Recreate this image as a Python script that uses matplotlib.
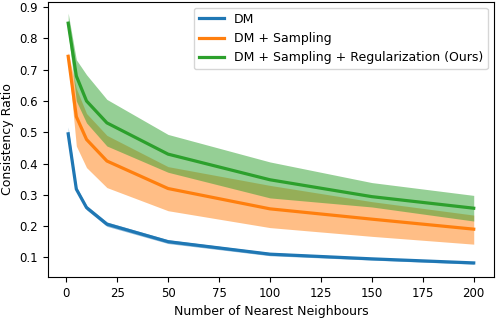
import matplotlib
matplotlib.use('Agg')
import matplotlib.pyplot as plt

# number of nearest neighbours
k = [1, 5, 10, 20, 50, 100, 150, 200]

# DM
dm = [0.495, 0.318, 0.259, 0.206, 0.15, 0.11, 0.095, 0.082]
dm_lo = [0.488, 0.311, 0.252, 0.199, 0.144, 0.105, 0.091, 0.078]
dm_hi = [0.517, 0.326, 0.266, 0.213, 0.156, 0.115, 0.099, 0.086]

# DM + Sampling
samp = [0.743, 0.55, 0.477, 0.408, 0.32, 0.255, 0.222, 0.19]
samp_lo = [0.73, 0.456, 0.387, 0.323, 0.249, 0.195, 0.167, 0.142]
samp_hi = [0.755, 0.64, 0.56, 0.49, 0.39, 0.33, 0.278, 0.235]

# DM + Sampling + Regularization (Ours)
ours = [0.849, 0.68, 0.6, 0.53, 0.43, 0.348, 0.294, 0.257]
ours_lo = [0.82, 0.6, 0.53, 0.456, 0.372, 0.29, 0.261, 0.216]
ours_hi = [0.881, 0.732, 0.684, 0.605, 0.493, 0.405, 0.339, 0.298]

fig, ax = plt.subplots(figsize=(4.99, 3.18), dpi=100)

ax.plot(k, dm, color='tab:blue', lw=2.3, label='DM')
ax.fill_between(k, dm_lo, dm_hi, color='tab:blue', alpha=0.5, lw=0)
ax.plot(k, samp, color='tab:orange', lw=2.3, label='DM + Sampling')
ax.fill_between(k, samp_lo, samp_hi, color='tab:orange', alpha=0.5, lw=0)
ax.plot(k, ours, color='tab:green', lw=2.3, label='DM + Sampling + Regularization (Ours)')
ax.fill_between(k, ours_lo, ours_hi, color='tab:green', alpha=0.5, lw=0)

ax.set_xlabel('Number of Nearest Neighbours', fontsize=9, labelpad=3.5)
ax.set_ylabel('Consistency Ratio', fontsize=9)
ax.set_xticks([0, 25, 50, 75, 100, 125, 150, 175, 200])
ax.set_yticks([0.1, 0.2, 0.3, 0.4, 0.5, 0.6, 0.7, 0.8, 0.9])
ax.tick_params(labelsize=8.5)
ax.set_ylim(0.036, 0.918)
ax.legend(loc='upper right', fontsize=9)

fig.subplots_adjust(left=0.096, right=0.99, top=0.995, bottom=0.128)
fig.savefig('out.png')
